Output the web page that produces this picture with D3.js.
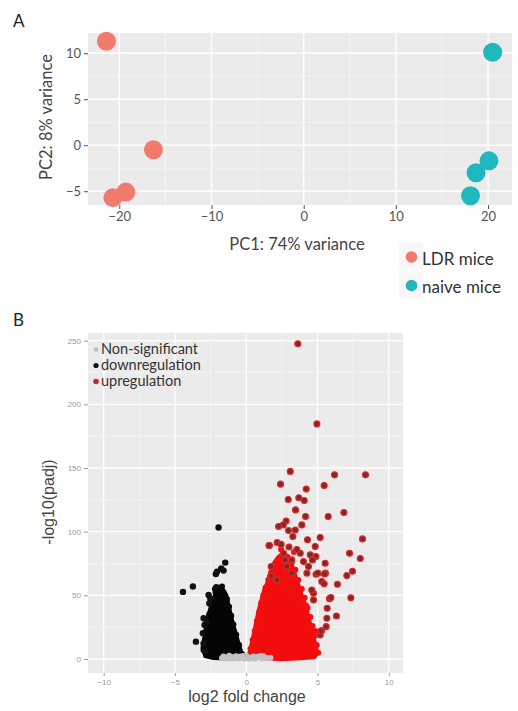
<!DOCTYPE html>
<html><head><meta charset="utf-8">
<script src="https://cdn.jsdelivr.net/npm/d3@7/dist/d3.min.js"></script>
<style>
html,body{margin:0;padding:0;background:#fff;}
svg{display:block;}
</style></head>
<body>
<svg id="chart" width="518" height="711"></svg>
<script>
// ---------- Panel A: PCA ----------
const pcaGroups = ["LDR mice", "naive mice"];
const pcaColors = ["#F07A6C", "#1FB8BF"];
const pcaPC1 = [-21.4, -16.3, -19.3, -20.7, 20.5, 20.1, 18.7, 18.1];
const pcaPC2 = [11.3, -0.5, -5.1, -5.7, 10.1, -1.7, -3.0, -5.5];
const pcaGroup = [0, 0, 0, 0, 1, 1, 1, 1];
const pcaXTicks = [-20, -10, 0, 10, 20];
const pcaYTicks = [-5, 0, 5, 10];
const pcaXMinor = [-15, -5, 5, 15];
const pcaYMinor = [-2.5, 2.5, 7.5];

// ---------- Panel B: volcano ----------
const volcLegend = ["Non-significant", "downregulation", "upregulation"];
const volcXTicks = [-10, -5, 0, 5, 10];
const volcYTicks = [0, 50, 100, 150, 200, 250];
const volcXMinor = [-7.5, -2.5, 2.5, 7.5];
const volcYMinor = [25, 75, 125, 175, 225];

// dense cluster outlines (log2FC, -log10 padj)
const upDenseX = [0.05, 0.2, 0.35, 0.5, 0.65, 0.8, 0.95, 1.1, 1.25, 1.45, 1.6, 1.8, 1.95, 2.2, 2.5, 2.8, 3.1, 3.3, 3.5, 3.7, 3.9, 4.1, 4.3, 4.45, 4.6, 4.75, 4.95, 5.0, 4.8, 3.5, 2.5, 1.6, 0.8, 0.05];
const upDenseY = [1, 5, 12, 20, 28, 36, 43, 49, 55, 60, 66, 71, 76, 80, 83, 82, 78, 72, 65, 58, 51, 45, 38, 31, 24, 17, 10, 4, 1, 0, -0.5, 0, 0.5, 1];
const downDenseX = [-0.19, -0.3, -0.5, -0.7, -0.9, -1.05, -1.2, -1.36, -1.55, -1.75, -2.0, -2.2, -2.4, -2.6, -2.75, -2.88, -2.98, -3.1, -2.9, -2.3, -1.5, -0.8, -0.19];
const downDenseY = [1, 5, 12, 20, 28, 35, 42, 50, 54, 56, 55, 51, 45, 38, 31, 24, 16, 9, 2, 0.3, 0, 0.2, 1];

const upEdgeX = [0.3, 0.45, 0.6, 0.75, 0.9, 1.05, 1.2, 1.35, 1.55, 1.75, 2.0, 2.3, 2.6, 2.9, 3.2, 3.45, 3.65, 3.9, 4.1, 4.3, 4.5, 4.65, 4.8, 4.95, 5.05, 3.0, 2.2, 2.7, 3.8, 4.4, 3.35, 2.45, 1.9, 3.6, 4.2, 4.85];
const upEdgeY = [8, 15, 22, 30, 37, 44, 50, 56, 62, 68, 74, 79, 82, 80, 76, 70, 62, 55, 48, 40, 33, 26, 18, 11, 5, 55, 60, 68, 45, 25, 84, 86, 64, 50, 42, 22];
const downEdgeX = [-0.3, -0.5, -0.7, -0.9, -1.05, -1.2, -1.35, -1.55, -1.75, -1.95, -2.15, -2.3, -2.45, -2.6, -2.7, -2.8, -2.9, -3.0, -2.6, -1.9, -1.7, -2.2, -1.45];
const downEdgeY = [4, 11, 19, 27, 34, 41, 47, 51, 54, 56, 52, 47, 42, 35, 28, 21, 14, 7, 3, 50, 57, 55, 48];

const nsX = [-1.7, -1.6, -1.5, -1.4, -1.3, -1.2, -1.1, -1.0, -0.9, -0.8, -0.7, -0.6, -0.5, -0.4, -0.3, -0.2, -0.1, 0.0, 0.1, 0.2, 0.3, 0.4, 0.5, 0.6, 0.7, 0.8, 0.9, 1.0, 1.1, 1.2, 1.3, 1.4, 1.55, 1.7];
const nsY = [0.5, 1.9, 1.2, 0.4, 0.3, 2.5, 1.8, 0.6, 0.8, 1.7, 2.2, 1.0, 0.4, 2.0, 1.5, 2.4, 0.2, 2.6, 1.1, 0.3, 0.5, 1.4, 2.0, 0.1, 0.9, 1.8, 1.6, 2.3, 0.3, 2.1, 1.2, 0.7, 0.6, 1.0];

const upOutX = [3.62, 4.96, 3.09, 6.2, 8.37, 2.41, 4.21, 5.47, 2.95, 3.69, 4.07, 3.46, 5.75, 6.85, 4.16, 2.8, 2.6, 2.27, 2.97, 3.9, 3.44, 3.27, 1.59, 2.17, 4.3, 5.19, 4.84, 8.16, 7.25, 8.0, 5.54, 7.46, 7.06, 6.4, 5.3, 5.47, 4.26, 4.9, 5.56, 7.34, 5.84, 5.68, 6.33, 5.66, 5.61, 5.3, 5.19, 4.72, 4.72, 4.89, 4.65, 4.49, 4.02, 4.37, 3.79, 2.62, 2.73, 2.85, 3.2, 3.2, 1.75, 1.73, 2.15, 4.6, 5.03, 5.49, 5.94, 5.24, 1.63, 3.0, 3.55, 2.45];
const upOutY = [247.6, 184.6, 147.3, 144.6, 144.6, 137.3, 133.4, 136.3, 125.3, 126.6, 124.5, 117.1, 111.9, 115, 111.9, 108.3, 105.3, 104, 100.9, 105.3, 101.3, 96.2, 89.1, 91.5, 93.6, 95.4, 88.3, 94.3, 83, 78.9, 75.2, 68.9, 65.5, 58.7, 60.8, 59, 67.4, 66.6, 67.4, 48, 47.4, 39.8, 33.8, 32, 25.4, 22.3, 18.9, 46.4, 51.6, 80.5, 77.8, 81.8, 76.5, 72.6, 83, 83, 77.8, 72.6, 77.8, 67.4, 72.6, 65.3, 62.1, 54.2, 67.4, 66.8, 48.2, 22, 89.1, 88, 86, 90];
const downOutX = [-1.94, -1.47, -1.75, -1.59, -2.05, -2.13, -4.44, -3.74, -2.64, -2.52, -2.59, -2.1, -2.99, -2.76, -2.92, -3.04, -3.53, -2.99, -2.88];
const downOutY = [103.3, 75.7, 71.2, 69.4, 68.6, 66.8, 52.7, 56.9, 50.3, 47.6, 43.7, 56.4, 32, 29.3, 26.7, 20.2, 13.6, 12.3, 5.8];

// ---------- drawing ----------
const svg = d3.select("#chart");
const fontA = "Lato, 'Open Sans', sans-serif";
const fontB = "'Liberation Sans', Arial, sans-serif";

// Panel labels
svg.append("text").attr("x", 13).attr("y", 27).text("A")
  .attr("font-family", fontA).attr("font-size", 17).attr("fill", "#222");
svg.append("text").attr("x", 13).attr("y", 326).text("B")
  .attr("font-family", fontA).attr("font-size", 17).attr("fill", "#222");

// ----- Panel A -----
const xA = d3.scaleLinear().domain([-23.4, 22.6]).range([88, 512]);
const yA = d3.scaleLinear().domain([-6.5, 12.2]).range([205, 33]);
const gA = svg.append("g");
gA.append("rect").attr("x", xA.range()[0]).attr("y", yA.range()[1])
  .attr("width", xA.range()[1] - xA.range()[0]).attr("height", yA.range()[0] - yA.range()[1])
  .attr("fill", "#EBEBEB");
gA.selectAll(".vminA").data(pcaXMinor).join("line")
  .attr("x1", d => xA(d)).attr("x2", d => xA(d)).attr("y1", yA.range()[1]).attr("y2", yA.range()[0])
  .attr("stroke", "#F7F7F7").attr("stroke-width", 0.7);
gA.selectAll(".hminA").data(pcaYMinor).join("line")
  .attr("y1", d => yA(d)).attr("y2", d => yA(d)).attr("x1", xA.range()[0]).attr("x2", xA.range()[1])
  .attr("stroke", "#F7F7F7").attr("stroke-width", 0.7);
gA.selectAll(".vmajA").data(pcaXTicks).join("line")
  .attr("x1", d => xA(d)).attr("x2", d => xA(d)).attr("y1", yA.range()[1]).attr("y2", yA.range()[0])
  .attr("stroke", "#fff").attr("stroke-width", 1.4);
gA.selectAll(".hmajA").data(pcaYTicks).join("line")
  .attr("y1", d => yA(d)).attr("y2", d => yA(d)).attr("x1", xA.range()[0]).attr("x2", xA.range()[1])
  .attr("stroke", "#fff").attr("stroke-width", 1.4);

const axAx = gA.append("g").attr("transform", `translate(0,${yA.range()[0]})`)
  .call(d3.axisBottom(xA).tickValues(pcaXTicks).tickSize(4).tickPadding(3).tickFormat(d3.format("d")));
const axAy = gA.append("g").attr("transform", `translate(${xA.range()[0]},0)`)
  .call(d3.axisLeft(yA).tickValues(pcaYTicks).tickSize(4).tickPadding(3).tickFormat(d3.format("d")));
[axAx, axAy].forEach(a => {
  a.select(".domain").remove();
  a.selectAll("line").attr("stroke", "#555");
  a.selectAll("text").attr("font-family", fontA).attr("font-size", 13).attr("fill", "#555");
});

gA.selectAll(".pt").data(pcaPC1.map((v, i) => i)).join("circle")
  .attr("cx", i => xA(pcaPC1[i])).attr("cy", i => yA(pcaPC2[i])).attr("r", 9.5)
  .attr("fill", i => pcaColors[pcaGroup[i]]);

svg.append("text").attr("x", 297).attr("y", 250).attr("text-anchor", "middle")
  .attr("font-family", fontA).attr("font-size", 16.5).attr("fill", "#444").text("PC1: 74% variance");
svg.append("text").attr("transform", "translate(52,117) rotate(-90)").attr("text-anchor", "middle")
  .attr("font-family", fontA).attr("font-size", 16.5).attr("fill", "#444").text("PC2: 8% variance");

// legend A
const legA = svg.append("g");
pcaGroups.forEach((g, i) => {
  const cy = 257 + i * 28.5;
  legA.append("rect").attr("x", 399).attr("y", cy - 14).attr("width", 24).attr("height", 27.5).attr("fill", "#F7F7F7");
  legA.append("circle").attr("cx", 411.5).attr("cy", cy).attr("r", 5.8).attr("fill", pcaColors[i]);
  legA.append("text").attr("x", 422).attr("y", cy + 7.5).attr("font-family", fontA).attr("font-size", 17)
    .attr("fill", "#333").text(g);
});

// ----- Panel B -----
const xB = d3.scaleLinear().domain([-11.1, 11.0]).range([88, 403]);
const yB = d3.scaleLinear().domain([-11, 256]).range([673, 333]);
const gB = svg.append("g");
gB.append("rect").attr("x", xB.range()[0]).attr("y", yB.range()[1])
  .attr("width", xB.range()[1] - xB.range()[0]).attr("height", yB.range()[0] - yB.range()[1])
  .attr("fill", "#EBEBEB");
gB.selectAll(".vminB").data(volcXMinor).join("line")
  .attr("x1", d => xB(d)).attr("x2", d => xB(d)).attr("y1", yB.range()[1]).attr("y2", yB.range()[0])
  .attr("stroke", "#F7F7F7").attr("stroke-width", 0.7);
gB.selectAll(".hminB").data(volcYMinor).join("line")
  .attr("y1", d => yB(d)).attr("y2", d => yB(d)).attr("x1", xB.range()[0]).attr("x2", xB.range()[1])
  .attr("stroke", "#F7F7F7").attr("stroke-width", 0.7);
gB.selectAll(".vmajB").data(volcXTicks).join("line")
  .attr("x1", d => xB(d)).attr("x2", d => xB(d)).attr("y1", yB.range()[1]).attr("y2", yB.range()[0])
  .attr("stroke", "#fff").attr("stroke-width", 1.3);
gB.selectAll(".hmajB").data(volcYTicks).join("line")
  .attr("y1", d => yB(d)).attr("y2", d => yB(d)).attr("x1", xB.range()[0]).attr("x2", xB.range()[1])
  .attr("stroke", "#fff").attr("stroke-width", 1.3);

const axBx = gB.append("g").attr("transform", `translate(0,${yB.range()[0]})`)
  .call(d3.axisBottom(xB).tickValues(volcXTicks).tickSize(3).tickPadding(3).tickFormat(d3.format("d")));
const axBy = gB.append("g").attr("transform", `translate(${xB.range()[0]},0)`)
  .call(d3.axisLeft(yB).tickValues(volcYTicks).tickSize(4).tickPadding(3).tickFormat(d3.format("d")));
[axBx, axBy].forEach(a => {
  a.select(".domain").remove();
  a.selectAll("line").attr("stroke", "#999");
  a.selectAll("text").attr("font-family", fontB).attr("font-size", 8).attr("fill", "#999");
});

const poly = (xs, ys) => d3.line().x((d) => xB(d[0])).y(d => yB(d[1]))(xs.map((v, i) => [v, ys[i]])) + "Z";
// dense clusters
gB.append("path").attr("d", poly(downDenseX, downDenseY)).attr("fill", "#050505")
  .attr("stroke", "#050505").attr("stroke-width", 3).attr("stroke-linejoin", "round");
gB.append("path").attr("d", poly(upDenseX, upDenseY)).attr("fill", "#F20D0D")
  .attr("stroke", "#F20D0D").attr("stroke-width", 3).attr("stroke-linejoin", "round");
gB.selectAll(".de").data(downEdgeX.map((v, i) => i)).join("circle")
  .attr("cx", i => xB(downEdgeX[i])).attr("cy", i => yB(downEdgeY[i])).attr("r", 3).attr("fill", "#050505");
gB.selectAll(".ue").data(upEdgeX.map((v, i) => i)).join("circle")
  .attr("cx", i => xB(upEdgeX[i])).attr("cy", i => yB(upEdgeY[i])).attr("r", 3).attr("fill", "#F01010");
// non-significant
gB.selectAll(".ns").data(nsX.map((v, i) => i)).join("circle")
  .attr("cx", i => xB(nsX[i])).attr("cy", i => yB(nsY[i])).attr("r", 3).attr("fill", "#C2C2C2");
// outliers
gB.selectAll(".do").data(downOutX.map((v, i) => i)).join("circle")
  .attr("cx", i => xB(downOutX[i])).attr("cy", i => yB(downOutY[i])).attr("r", 3.2).attr("fill", "#111");
gB.selectAll(".uo").data(upOutX.map((v, i) => i)).join("circle")
  .attr("cx", i => xB(upOutX[i])).attr("cy", i => yB(upOutY[i])).attr("r", 3)
  .attr("fill", "#7E2A2A").attr("stroke", "#E52828").attr("stroke-width", 1.1);

// legend B
const legColors = ["#BDBDBD", "#111", "#C42A2A"];
const legR = [2.2, 2.6, 2.8];
volcLegend.forEach((t, i) => {
  const by = 354 + i * 16;
  gB.append("circle").attr("cx", 96).attr("cy", by - 4.5).attr("r", legR[i]).attr("fill", legColors[i]);
  gB.append("text").attr("x", 101).attr("y", by).attr("font-family", fontA).attr("font-size", 14.5)
    .attr("fill", "#333").text(t);
});

svg.append("text").attr("x", 247).attr("y", 702).attr("text-anchor", "middle")
  .attr("font-family", fontB).attr("font-size", 16).attr("fill", "#444").text("log2 fold change");
svg.append("text").attr("transform", "translate(54,502) rotate(-90)").attr("text-anchor", "middle")
  .attr("font-family", fontB).attr("font-size", 16).attr("fill", "#444").text("-log10(padj)");
</script>
</body></html>
